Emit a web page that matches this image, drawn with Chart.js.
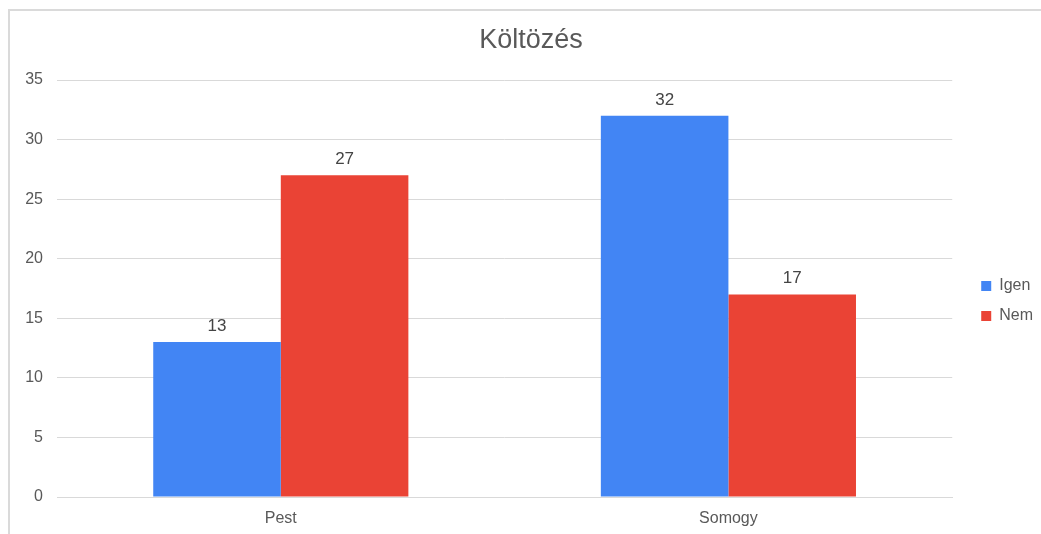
<!DOCTYPE html>
<html>
<head>
<meta charset="utf-8">
<script src="https://cdn.jsdelivr.net/npm/chart.js@4/dist/chart.umd.min.js"></script>
<style>
  html, body { margin: 0; padding: 0; background: #fff; }
  #frame { position: absolute; left: 8px; top: 9px; width: 1040px; height: 540px; border: 2px solid #dadada; box-sizing: border-box; }
  #wrap { position: absolute; left: 0; top: 0; width: 1041px; height: 534px; }
</style>
</head>
<body>
<div id="frame"></div>
<div id="wrap"><canvas id="chart"></canvas></div>
<script>
// values
const categories = ['Pest', 'Somogy'];
const igenValues = [13, 32];
const nemValues = [27, 17];
const seriesNames = ['Igen', 'Nem'];
const seriesColors = ['#4285F4', '#EA4335'];

const textGray = '#595959';
const font = 'Liberation Sans, Arial, sans-serif';

// labels above each bar
const barLabels = {
    id: 'barLabels',
    afterDatasetsDraw(chart) {
        const ctx = chart.ctx;
        ctx.save();
        ctx.font = '17px ' + font;
        ctx.fillStyle = '#444';
        ctx.textAlign = 'center';
        ctx.textBaseline = 'alphabetic';
        chart.data.datasets.forEach((ds, i) => {
            chart.getDatasetMeta(i).data.forEach((bar, j) => {
                ctx.fillText(ds.data[j], bar.x, bar.y - 11);
            });
        });
        ctx.restore();
    }
};

// nudge legend and title a bit, like the original
const blockNudge = {
    id: 'blockNudge',
    afterLayout(chart) {
        const lg = chart.legend;
        lg.left += 15; lg.right += 15;
        lg.top += 22; lg.bottom += 22;
        const tb = chart.titleBlock;
        tb.left += 17; tb.right += 17;
    }
};

new Chart(document.getElementById('chart'), {
    type: 'bar',
    data: {
        labels: categories,
        datasets: [
            { label: seriesNames[0], data: igenValues, backgroundColor: seriesColors[0] },
            { label: seriesNames[1], data: nemValues, backgroundColor: seriesColors[1] }
        ]
    },
    options: {
        responsive: true,
        maintainAspectRatio: false,
        animation: false,
        categoryPercentage: 0.57,
        barPercentage: 1,
        layout: { padding: { left: 0, right: 13, top: 24, bottom: 0 } },
        plugins: {
            title: {
                display: true,
                text: 'Költözés',
                color: textGray,
                font: { family: font, size: 27, weight: 'normal' },
                padding: { top: 0, bottom: 23.6 }
            },
            legend: {
                position: 'right',
                labels: {
                    color: textGray,
                    font: { family: font, size: 16 },
                    boxWidth: 10,
                    boxHeight: 10,
                    padding: 14
                }
            },
            tooltip: { enabled: false }
        },
        scales: {
            x: {
                grid: { display: false, drawTicks: false },
                border: { color: '#d9d9d9' },
                ticks: { color: textGray, font: { family: font, size: 16 }, padding: 12 },
                afterFit(scale) { scale.height = 37; }
            },
            y: {
                min: 0,
                max: 35,
                ticks: { stepSize: 5, color: textGray, font: { family: font, size: 16 }, padding: 14 },
                grid: { color: '#d9d9d9', drawTicks: false },
                border: { display: false },
                afterFit(scale) { scale.width = 57; }
            }
        }
    },
    plugins: [barLabels, blockNudge]
});
</script>
</body>
</html>
